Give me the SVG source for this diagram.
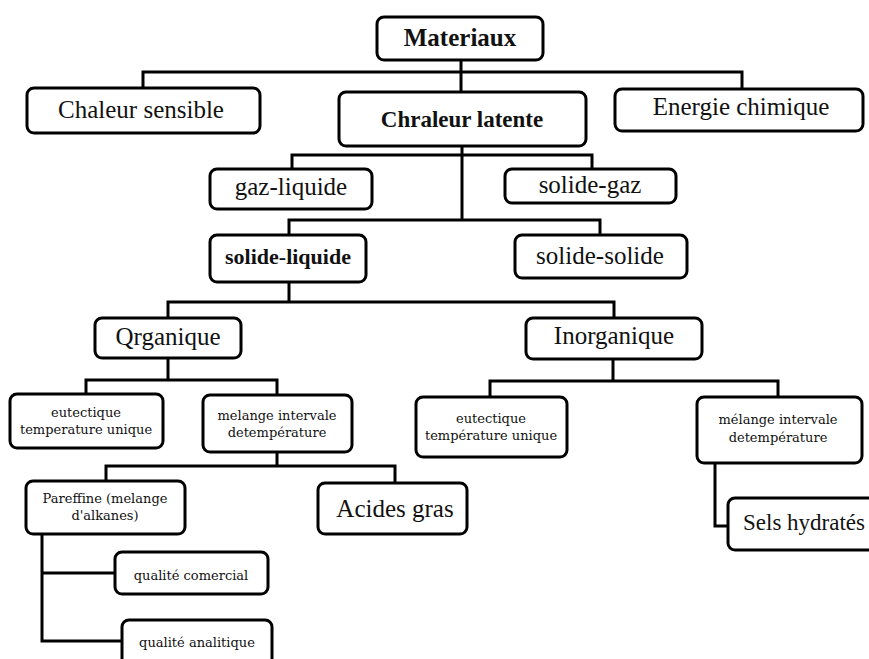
<svg xmlns="http://www.w3.org/2000/svg" width="869" height="659" viewBox="0 0 869 659">
<style>
  .box { fill: #fff; stroke: #000; stroke-width: 3; }
  .con { fill: none; stroke: #000; stroke-width: 3; stroke-linejoin: miter; }
  text { font-family: "Liberation Serif", "Times New Roman", serif; fill: #111; text-anchor: middle; }
  .big { font-size: 25px; }
  .bold { font-weight: bold; }
  .sm { font-family: "DejaVu Serif", "Liberation Serif", serif; font-size: 13px; }
</style>
<rect width="869" height="659" fill="#fff"/>
<g id="connectors">
  <path class="con" d="M461 60 V72 M143 88 V72 H742 V89 M461 72 V92"/>
  <path class="con" d="M462 146 V220 M292 169 V155 H592 V169 M289 235 V220 H600 V235"/>
  <path class="con" d="M289 282 V302 M168 318 V302 H614 V318"/>
  <path class="con" d="M168 358 V380 M86 394 V380 H277 V395"/>
  <path class="con" d="M277 452 V466 M106 481 V466 H395 V483"/>
  <path class="con" d="M42 534 V641 H122 M42 573 H115"/>
  <path class="con" d="M613 359 V381 M490 397 V381 H778 V397"/>
  <path class="con" d="M715 463 V526 H728"/>
</g>
<g id="materiaux"><rect class="box" x="377" y="17" width="166" height="43" rx="7"/><text class="big bold" x="460" y="46">Materiaux</text></g>
<g id="chaleur-sensible"><rect class="box" x="27" y="88" width="233" height="45" rx="7"/><text class="big" x="141" y="118">Chaleur sensible</text></g>
<g id="chaleur-latente"><rect class="box" x="339" y="92" width="247" height="54" rx="7"/><text class="bold" style="font-size:23px" x="462" y="127">Chraleur latente</text></g>
<g id="energie-chimique"><rect class="box" x="615" y="89" width="248" height="42" rx="7"/><text class="big" x="741" y="115">Energie chimique</text></g>
<g id="gaz-liquide"><rect class="box" x="210" y="169" width="162" height="40" rx="7"/><text class="big" x="291" y="195">gaz-liquide</text></g>
<g id="solide-gaz"><rect class="box" x="505" y="169" width="171" height="34" rx="7"/><text class="big" x="590" y="193">solide-gaz</text></g>
<g id="solide-liquide"><rect class="box" x="210" y="235" width="156" height="47" rx="7"/><text class="bold" style="font-size:22px" x="288" y="264">solide-liquide</text></g>
<g id="solide-solide"><rect class="box" x="515" y="235" width="172" height="43" rx="7"/><text class="big" x="600" y="264">solide-solide</text></g>
<g id="organique"><rect class="box" x="95" y="318" width="146" height="40" rx="7"/><text class="big" x="168" y="345">Qrganique</text></g>
<g id="inorganique"><rect class="box" x="526" y="318" width="176" height="41" rx="7"/><text class="big" x="614" y="344">Inorganique</text></g>
<g id="eutectique-org"><rect class="box" x="10" y="394" width="153" height="54" rx="7"/><text class="sm" x="86" y="417">eutectique</text><text class="sm" x="86" y="434">temperature unique</text></g>
<g id="melange-org"><rect class="box" x="203" y="395" width="149" height="57" rx="7"/><text class="sm" x="277" y="420">melange intervale</text><text class="sm" x="277" y="437">detempérature</text></g>
<g id="eutectique-inorg"><rect class="box" x="416" y="397" width="151" height="60" rx="7"/><text class="sm" x="491" y="423">eutectique</text><text class="sm" x="491" y="440">température unique</text></g>
<g id="melange-inorg"><rect class="box" x="697" y="397" width="165" height="66" rx="7"/><text class="sm" x="778" y="424">mélange intervale</text><text class="sm" x="778" y="442">detempérature</text></g>
<g id="pareffine"><rect class="box" x="26" y="481" width="159" height="53" rx="7"/><text class="sm" x="105" y="503">Pareffine (melange</text><text class="sm" x="105" y="520">d'alkanes)</text></g>
<g id="acides-gras"><rect class="box" x="318" y="483" width="149" height="51" rx="7"/><text class="big" x="395" y="517">Acides gras</text></g>
<g id="qualite-comercial"><rect class="box" x="115" y="552" width="153" height="42" rx="7"/><text class="sm" x="191" y="580">qualité comercial</text></g>
<g id="qualite-analitique"><rect class="box" x="122" y="620" width="150" height="50" rx="7"/><text class="sm" x="197" y="647">qualité analitique</text></g>
<g id="sels-hydrates"><rect class="box" x="728" y="498" width="160" height="52" rx="7"/><text style="font-size:23px;text-anchor:start" x="743" y="530">Sels hydratés</text></g>
</svg>
